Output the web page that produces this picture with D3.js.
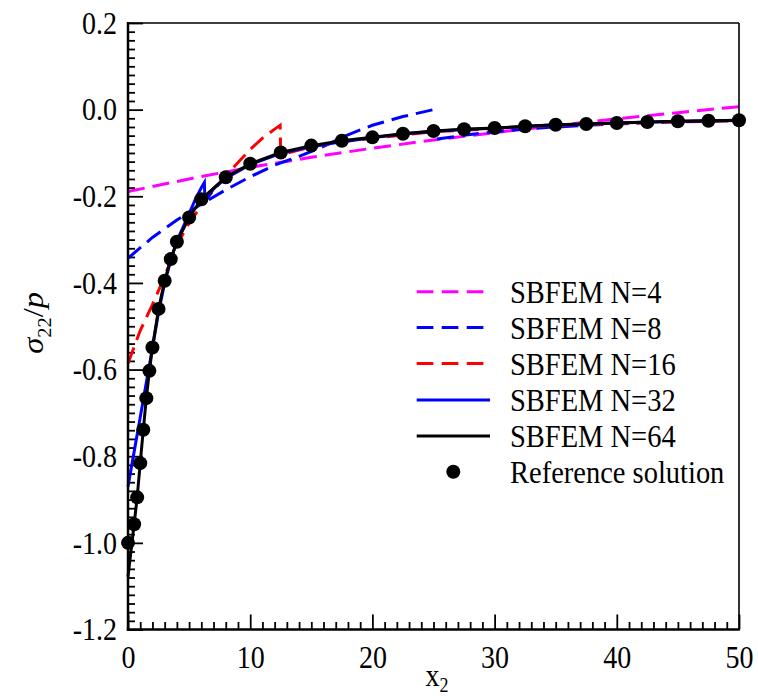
<!DOCTYPE html>
<html><head><meta charset="utf-8">
<script src="https://cdn.jsdelivr.net/npm/d3@7"></script>
<style>
body{margin:0;background:#fff}
svg text{font-family:"Liberation Serif","Tinos","Times New Roman","DejaVu Serif",serif !important;fill:#000}
</style>
</head><body><svg id="c" width="758" height="699"></svg>
<script>
// ---- data ----
const refX = [0,0.5,0.75,1,1.25,1.5,1.75,2,2.5,3,3.5,4,5,6,8,10,12.5,15,17.5,20,22.5,25,27.5,30,32.5,35,37.5,40,42.5,45,47.5,50];
const refY = [-1.0,-0.957,-0.895,-0.816,-0.739,-0.666,-0.603,-0.549,-0.460,-0.395,-0.345,-0.305,-0.249,-0.207,-0.156,-0.125,-0.099,-0.083,-0.0717,-0.0639,-0.0555,-0.0493,-0.0454,-0.0424,-0.0385,-0.0348,-0.0332,-0.0308,-0.0285,-0.0269,-0.0255,-0.0246];

const n4X = [0,5,10,15,20,25,30,35,40,45,50];
const n4Y = [-0.189,-0.160,-0.133,-0.110,-0.089,-0.070,-0.053,-0.037,-0.021,-0.007,0.007];

// null marks a break in the N=8 curve at x2 = 25
const n8X = [0,2,4,6,8,10,12,14,16,18,20,22.5,25,25,25.3,27.5,30,32.5,35,37.5,40,42.5,45,47.5,50];
const n8Y = [-0.343,-0.295,-0.255,-0.218,-0.185,-0.155,-0.128,-0.108,-0.085,-0.058,-0.036,-0.016,0.0,null,-0.068,-0.059,-0.051,-0.045,-0.040,-0.036,-0.033,-0.030,-0.028,-0.026,-0.0245];

const n16X = [0,1,2,3,4,5,6,7,8,9,10,11,12,12.45,12.5,15,17.5,20,25,30,35,40,45,50];
const n16Y = [-0.586,-0.51,-0.45,-0.385,-0.312,-0.262,-0.222,-0.186,-0.153,-0.122,-0.092,-0.066,-0.045,-0.036,-0.104,-0.086,-0.074,-0.066,-0.051,-0.044,-0.036,-0.032,-0.028,-0.026];

const n32X = [0,0.5,1,1.5,2,2.5,3,3.5,4,4.5,5,5.5,6,6.25,6.3,7,8,10,12.5,15,17.5,20,22.5,25,27.5,30,32.5,35,37.5,40,42.5,45,47.5,50];
const n32Y = [-0.870,-0.79,-0.71,-0.63,-0.55,-0.468,-0.40,-0.348,-0.303,-0.272,-0.240,-0.208,-0.180,-0.168,-0.212,-0.183,-0.158,-0.127,-0.101,-0.085,-0.074,-0.065,-0.056,-0.050,-0.046,-0.043,-0.039,-0.035,-0.033,-0.031,-0.029,-0.027,-0.026,-0.025];

const n64X = refX;
const n64Y = [-1.078,-0.957,-0.895,-0.816,-0.739,-0.666,-0.603,-0.549,-0.460,-0.395,-0.345,-0.305,-0.249,-0.207,-0.156,-0.125,-0.099,-0.083,-0.0717,-0.0639,-0.0555,-0.0493,-0.0454,-0.0424,-0.0385,-0.0348,-0.0332,-0.0308,-0.0285,-0.0269,-0.0255,-0.0246];

const xTicks = [0,10,20,30,40,50];
const yTicks = [-1.2,-1.0,-0.8,-0.6,-0.4,-0.2,0.0,0.2];
const legendNames = ["SBFEM N=4","SBFEM N=8","SBFEM N=16","SBFEM N=32","SBFEM N=64","Reference solution"];

// ---- drawing ----
const FONT = "'Liberation Serif','Tinos','Times New Roman','DejaVu Serif',serif";
const SY = 1.14;
const svg = d3.select("#c");
const L=128,R=739,T=23,B=629.5;
const x = d3.scaleLinear().domain([0,50]).range([L,R]);
const y = d3.scaleLinear().domain([-1.2,0.2]).range([B,T]);

const xMinor = d3.range(0,51).filter(v=>v%10!==0);
const yMinor = d3.range(-60,11).map(i=>i/50).filter(v=>Math.abs(Math.round(v*5)-v*5)>1e-6);

svg.append("g").attr("transform",`translate(0,${B})`)
  .call(d3.axisBottom(x).tickValues(xTicks).tickSizeInner(-15).tickSizeOuter(0).tickPadding(13.5).tickFormat(d=>String(d)));
svg.append("g").attr("transform",`translate(0,${B})`)
  .call(d3.axisBottom(x).tickValues(xMinor).tickSizeInner(-7.5).tickSizeOuter(0).tickFormat(""));
svg.append("g").attr("transform",`translate(${L},0)`)
  .call(d3.axisLeft(y).tickValues(yTicks).tickSizeInner(-15).tickSizeOuter(0).tickPadding(11).tickFormat(d=>d.toFixed(1)));
svg.append("g").attr("transform",`translate(${L},0)`)
  .call(d3.axisLeft(y).tickValues(yMinor).tickSizeInner(-7).tickSizeOuter(0).tickFormat(""));
svg.selectAll(".domain").remove();
svg.selectAll("g").attr("font-family",FONT);
svg.selectAll(".tick line").attr("stroke","#000").attr("stroke-width",1.8);
svg.selectAll(".tick text").attr("font-size",28).style("font-family",FONT).attr("transform",`scale(1,${SY})`);

const line = d3.line().defined(d=>d[1]!==null).x(d=>x(d[0])).y(d=>y(d[1]));
const zip = (a,b)=>a.map((v,i)=>[v,b[i]]);
const series = [
  {X:n4X,Y:n4Y,c:"#ff00ff",dash:"17,8"},
  {X:n8X,Y:n8Y,c:"#0000ff",dash:"17,8"},
  {X:n16X,Y:n16Y,c:"#ff0000",dash:"17,8"},
  {X:n32X,Y:n32Y,c:"#0000ff",dash:null},
  {X:n64X,Y:n64Y,c:"#000000",dash:null}
];
const plot = svg.append("g");
series.forEach(s=>{
  plot.append("path").datum(zip(s.X,s.Y)).attr("d",line)
    .attr("fill","none").attr("stroke",s.c).attr("stroke-width",3)
    .attr("stroke-dasharray",s.dash);
});
plot.selectAll("circle").data(zip(refX,refY)).join("circle")
  .attr("cx",d=>x(d[0])).attr("cy",d=>y(d[1])).attr("r",7).attr("fill","#000");

svg.append("line").attr("x1",L).attr("x2",R).attr("y1",T).attr("y2",T).attr("stroke","#000").attr("stroke-width",1.6);
svg.append("line").attr("x1",R).attr("x2",R).attr("y1",T).attr("y2",B).attr("stroke","#000").attr("stroke-width",1.6);
svg.append("line").attr("x1",L).attr("x2",L).attr("y1",T-1).attr("y2",B+1.2).attr("stroke","#000").attr("stroke-width",2.5);
svg.append("line").attr("x1",L-1.2).attr("x2",R+0.8).attr("y1",B).attr("y2",B).attr("stroke","#000").attr("stroke-width",2.5);

const lg = svg.append("g");
const rowsY = [291.7,327.5,363.5,400,436,471.7];
legendNames.forEach((name,i)=>{
  const ry = rowsY[i];
  if(i<5){
    const s = series[i];
    lg.append("line").attr("x1",416.7).attr("x2",s.dash?483.4:490).attr("y1",ry).attr("y2",ry)
      .attr("stroke",s.c).attr("stroke-width",3).attr("stroke-dasharray",s.dash?"16.7,8.3":null);
  } else {
    lg.append("circle").attr("cx",453.3).attr("cy",ry).attr("r",7).attr("fill","#000");
  }
  lg.append("text").attr("transform",`translate(510,${ry}) scale(1,${SY})`).attr("dy","0.34em")
    .attr("font-size",28.5).style("font-family",FONT).text(name);
});

const xt = svg.append("text").attr("transform",`translate(437,686) scale(1,${SY})`).attr("text-anchor","middle").attr("font-size",28).style("font-family",FONT);
xt.append("tspan").text("x");
xt.append("tspan").attr("font-size",18).attr("dy",5).text("2");

const yt = svg.append("text").attr("transform",`translate(43,323) rotate(-90) scale(1.08,1)`).attr("text-anchor","middle").attr("font-size",30).style("font-family",FONT);
yt.append("tspan").attr("font-style","italic").text("σ");
yt.append("tspan").attr("font-size",19).attr("dy",8).text("22");
yt.append("tspan").attr("dy",-8).text("/");
yt.append("tspan").attr("font-style","italic").text("p");
</script>
</body></html>
